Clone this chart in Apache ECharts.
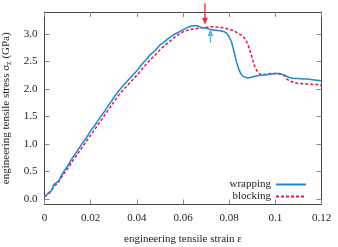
<!DOCTYPE html>
<html><head><meta charset="utf-8">
<script src="https://cdn.jsdelivr.net/npm/echarts@6/dist/echarts.min.js"></script>
<style>html,body{margin:0;padding:0;background:#fff}#c{width:338px;height:247px}</style>
</head><body><div id="c"></div>
<script>
const wrapStrain = [0,0.002,0.003,0.004,0.006,0.008,0.010,0.012,0.014,0.016,0.018,0.020,0.022,0.024,0.026,0.028,0.030,0.032,0.034,0.036,0.038,0.040,0.042,0.044,0.046,0.048,0.050,0.052,0.054,0.056,0.058,0.060,0.062,0.064,0.066,0.068,0.070,0.072,0.074,0.076,0.078,0.079,0.080,0.081,0.082,0.083,0.084,0.085,0.086,0.088,0.090,0.092,0.094,0.096,0.098,0.100,0.102,0.104,0.106,0.108,0.110,0.112,0.114,0.116,0.118,0.120];
const wrapStress = [0.04,0.12,0.15,0.26,0.32,0.48,0.60,0.74,0.86,0.99,1.10,1.24,1.35,1.48,1.59,1.72,1.84,1.96,2.06,2.15,2.24,2.33,2.44,2.53,2.63,2.70,2.80,2.86,2.93,2.99,3.03,3.08,3.12,3.15,3.15,3.12,3.11,3.08,3.07,3.06,3.04,3.01,2.95,2.86,2.70,2.52,2.38,2.28,2.23,2.20,2.22,2.24,2.25,2.26,2.27,2.28,2.28,2.25,2.21,2.19,2.19,2.18,2.18,2.17,2.16,2.15];
const blockStrain = [0,0.002,0.004,0.006,0.008,0.010,0.012,0.014,0.016,0.018,0.020,0.022,0.024,0.026,0.028,0.030,0.032,0.034,0.036,0.038,0.040,0.042,0.044,0.046,0.048,0.050,0.052,0.054,0.056,0.058,0.060,0.062,0.064,0.066,0.068,0.070,0.072,0.074,0.076,0.078,0.080,0.082,0.084,0.086,0.087,0.088,0.089,0.090,0.091,0.092,0.093,0.094,0.096,0.098,0.100,0.102,0.104,0.105,0.106,0.108,0.110,0.114,0.118,0.120];
const blockStress = [0.04,0.10,0.22,0.30,0.44,0.55,0.68,0.80,0.92,1.04,1.16,1.28,1.40,1.52,1.64,1.76,1.88,1.98,2.07,2.16,2.25,2.35,2.45,2.54,2.62,2.71,2.79,2.86,2.93,2.99,3.04,3.07,3.09,3.10,3.11,3.12,3.13,3.13,3.12,3.11,3.08,3.06,3.01,2.96,2.90,2.82,2.70,2.56,2.42,2.33,2.28,2.26,2.27,2.28,2.28,2.27,2.24,2.18,2.15,2.12,2.10,2.09,2.08,2.07];
const seriesNames = ['wrapping','blocking'];
const yTickValues = [0,0.5,1.0,1.5,2.0,2.5,3.0];
// arrow annotations: [strain, stressFrom, stressTo]
const redArrow = [0.0695, 3.56, 3.17];
const blueArrow = [0.0719, 2.84, 3.09];

const font = 'Liberation Serif';
const blue = '#1f88d2', red = '#e5193f';
const zip = (a,b) => a.map((v,i)=>[v,b[i]]);
const tickCommon = {show:true, inside:true, length:5, lineStyle:{color:'#888',width:1}};
const lineCommon = {show:true, onZero:false, lineStyle:{color:'#444',width:1}};

function renderArrow(params, api){
  const p0 = api.coord([api.value(0), api.value(1)]);
  const p1 = api.coord([api.value(0), api.value(2)]);
  const dir = p1[1] > p0[1] ? 1 : -1;
  const color = api.visual('color');
  const hl = 7, hw = 3;
  return {type:'group', children:[
    {type:'line', shape:{x1:p0[0], y1:p0[1], x2:p1[0], y2:p1[1]-dir*(hl-1)},
     style:{stroke:color, lineWidth:1.4}},
    {type:'polygon', shape:{points:[[p1[0],p1[1]],[p1[0]-hw,p1[1]-dir*hl],[p1[0]+hw,p1[1]-dir*hl]]},
     style:{fill:color}}
  ]};
}

const chart = echarts.init(document.getElementById('c'), null, {renderer:'canvas'});
chart.setOption({
  animation:false,
  grid:{left:44.5, right:16.5, top:12, bottom:42.5, outerBoundsMode:'none', containLabel:false},
  legend:{
    orient:'vertical', right:26, top:174, align:'right',
    itemWidth:30, itemHeight:10, itemGap:1,
    itemStyle:{opacity:0},
    textStyle:{fontFamily:font, fontSize:11, color:'#222'},
    data:seriesNames
  },
  xAxis:[{
    type:'value', min:0, max:0.12, interval:0.02, position:'bottom',
    name:'engineering tensile strain ε', nameLocation:'middle', nameGap:29,
    nameTextStyle:{fontFamily:font, fontSize:11, color:'#222'},
    axisLine:lineCommon, axisTick:tickCommon, splitLine:{show:false},
    axisLabel:{fontFamily:font, fontSize:11, color:'#222', margin:8,
      formatter:v=>v===0?'0':String(+v.toFixed(2))}
  },{
    type:'value', min:0, max:0.12, interval:0.02, position:'top',
    axisLine:lineCommon, axisTick:tickCommon, splitLine:{show:false}, axisLabel:{show:false}
  }],
  yAxis:[{
    type:'value', min:-0.1, max:3.4, position:'left',
    name:'{t|engineering tensile stress σ}{s|z}{t| (GPa)}', nameLocation:'middle', nameGap:25,
    nameTextStyle:{fontFamily:font, fontSize:11, color:'#222',
      rich:{t:{fontFamily:font,fontSize:11,color:'#222'}, s:{fontFamily:font,fontSize:8,color:'#222',verticalAlign:'bottom',padding:[6,0,0,0]}}},
    axisLine:lineCommon, splitLine:{show:false},
    axisTick:Object.assign({}, tickCommon, {customValues:yTickValues}),
    axisLabel:{fontFamily:font, fontSize:11, color:'#222', margin:7, customValues:yTickValues,
      formatter:v=>v.toFixed(1)}
  },{
    type:'value', min:-0.1, max:3.4, position:'right',
    axisLine:lineCommon, splitLine:{show:false},
    axisTick:Object.assign({}, tickCommon, {customValues:yTickValues}),
    axisLabel:{show:false}
  }],
  series:[{
    name:seriesNames[0], type:'line', showSymbol:false, symbol:'none',
    data:zip(wrapStrain, wrapStress),
    lineStyle:{color:blue, width:1.5}, itemStyle:{color:blue}, z:3
  },{
    name:seriesNames[1], type:'line', showSymbol:false, symbol:'none',
    data:zip(blockStrain, blockStress),
    lineStyle:{color:red, width:1.5, type:[3,2]}, itemStyle:{color:red}, z:2
  },{
    type:'custom', clip:false, silent:true, z:4,
    renderItem:renderArrow,
    encode:{x:0, y:[1,2]},
    data:[
      {value:redArrow, itemStyle:{color:'#e8304f'}},
      {value:blueArrow, itemStyle:{color:'#62b3e8'}}
    ]
  }]
});
</script></body></html>
